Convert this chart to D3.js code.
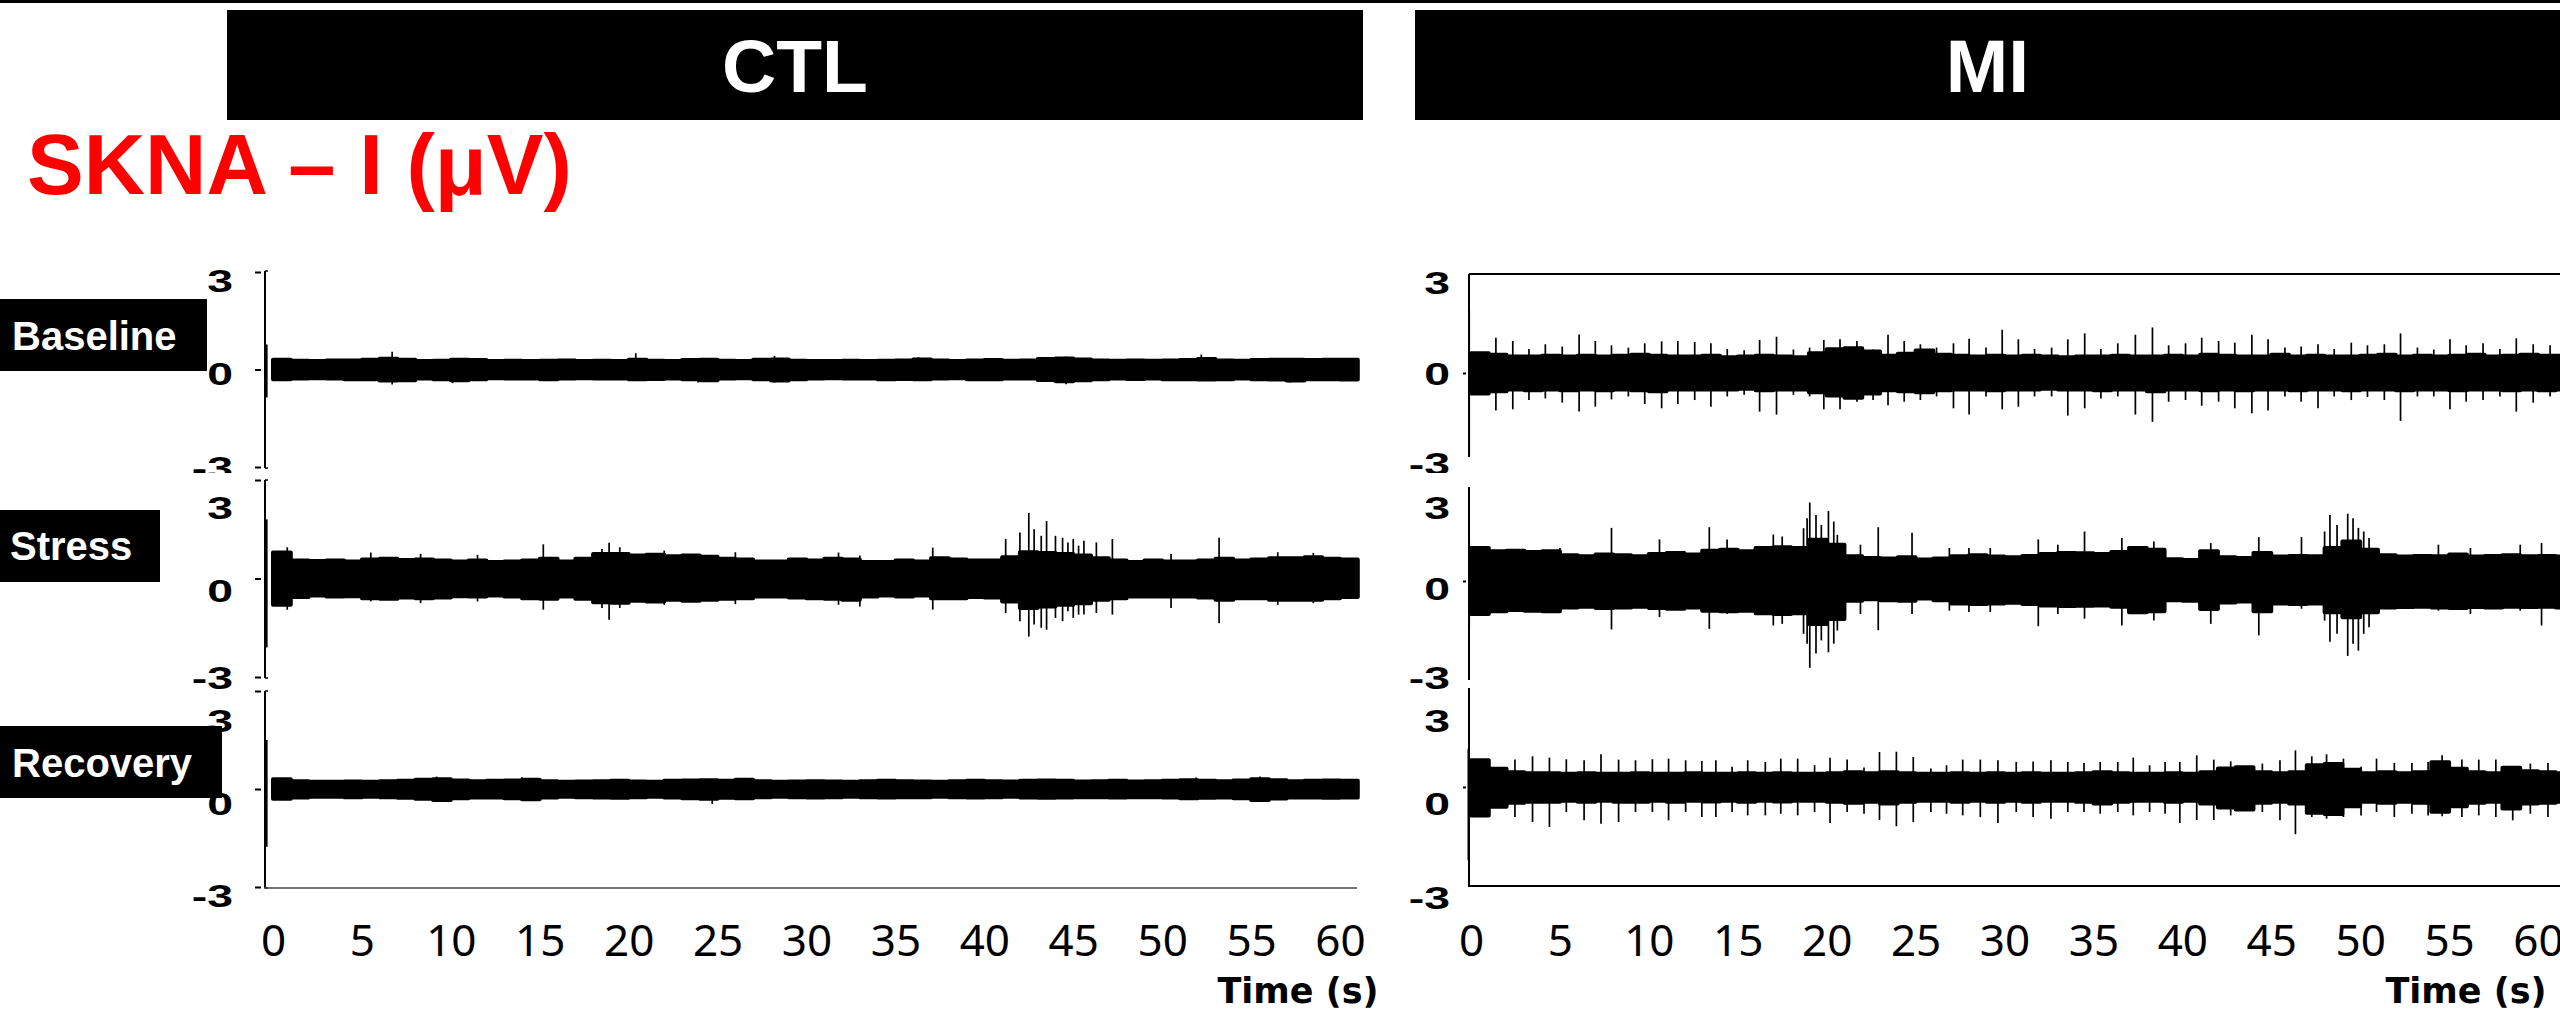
<!DOCTYPE html>
<meta charset="utf-8">
<script src="https://cdn.jsdelivr.net/npm/d3@7"></script>
<style>
  body { margin: 0; background: #fff; }
</style>
<div id="chart"></div>
<script>

// labels
const groups = ["CTL", "MI"];
const phases = ["Baseline", "Stress", "Recovery"];
const timeTicks = [0, 5, 10, 15, 20, 25, 30, 35, 40, 45, 50, 55, 60];
const yTicks = [3, 0, -3];

// SKNA envelope, one value per 1 s bin (uV): upper edge / lower edge
const ctlBaselineHi = [.30,.27,.26,.28,.28,.30,.33,.30,.26,.27,.30,.29,.26,.27,.26,.27,.28,.26,.27,.26,.30,.27,.26,.29,.30,.27,.26,.30,.31,.27,.26,.26,.27,.26,.27,.28,.31,.28,.26,.28,.29,.27,.28,.32,.34,.31,.28,.27,.28,.27,.28,.29,.32,.28,.27,.29,.30,.30,.29,.30,.30];
const ctlBaselineLo = [-.30,-.28,-.27,-.28,-.30,-.30,-.34,-.33,-.28,-.30,-.33,-.30,-.27,-.28,-.28,-.30,-.28,-.27,-.28,-.28,-.30,-.29,-.28,-.30,-.33,-.28,-.27,-.30,-.34,-.30,-.28,-.27,-.28,-.28,-.30,-.29,-.30,-.28,-.27,-.30,-.30,-.28,-.28,-.32,-.36,-.33,-.30,-.28,-.29,-.28,-.30,-.30,-.31,-.30,-.28,-.30,-.31,-.34,-.30,-.30,-.31];
const ctlStressHi = [.79,.55,.53,.55,.52,.58,.60,.56,.58,.55,.52,.55,.50,.52,.55,.60,.52,.60,.75,.75,.70,.72,.68,.70,.66,.60,.58,.52,.52,.58,.55,.60,.58,.50,.50,.55,.52,.62,.58,.55,.55,.65,.80,.78,.75,.70,.62,.55,.50,.55,.52,.52,.55,.60,.55,.58,.62,.62,.65,.60,.58];
const ctlStressLo = [-.80,-.56,-.52,-.55,-.54,-.60,-.62,-.58,-.60,-.58,-.54,-.55,-.52,-.55,-.60,-.62,-.55,-.62,-.72,-.74,-.68,-.70,-.65,-.68,-.65,-.62,-.60,-.55,-.55,-.58,-.60,-.62,-.65,-.55,-.52,-.55,-.52,-.60,-.60,-.56,-.58,-.70,-.90,-.85,-.80,-.75,-.65,-.60,-.55,-.55,-.55,-.55,-.58,-.65,-.60,-.60,-.65,-.65,-.65,-.60,-.56];
const ctlRecoveryHi = [.30,.24,.22,.22,.23,.22,.24,.25,.28,.30,.26,.24,.25,.26,.28,.24,.22,.23,.24,.25,.23,.22,.25,.26,.27,.25,.28,.24,.22,.23,.24,.23,.22,.24,.25,.24,.23,.22,.24,.25,.24,.23,.25,.26,.25,.23,.24,.25,.23,.24,.25,.27,.25,.24,.26,.30,.27,.24,.25,.26,.25];
const ctlRecoveryLo = [-.30,-.26,-.24,-.24,-.25,-.24,-.25,-.27,-.30,-.34,-.28,-.26,-.26,-.28,-.31,-.26,-.24,-.25,-.26,-.27,-.25,-.24,-.26,-.28,-.30,-.27,-.28,-.25,-.24,-.25,-.26,-.25,-.24,-.25,-.26,-.25,-.25,-.24,-.25,-.26,-.25,-.24,-.26,-.27,-.26,-.25,-.25,-.26,-.25,-.25,-.26,-.28,-.27,-.26,-.28,-.34,-.29,-.26,-.26,-.27,-.26];

const miBaselineHi = [.60,.55,.50,.50,.52,.50,.52,.50,.52,.55,.52,.50,.50,.52,.48,.50,.52,.50,.48,.60,.72,.75,.65,.52,.58,.68,.55,.52,.50,.52,.50,.52,.50,.48,.50,.50,.52,.50,.50,.52,.50,.55,.52,.50,.50,.55,.50,.52,.50,.50,.52,.55,.50,.52,.50,.52,.55,.50,.52,.55,.52,.52];
const miBaselineLo = [-.62,-.55,-.50,-.52,-.50,-.52,-.50,-.52,-.50,-.52,-.55,-.50,-.50,-.50,-.50,-.48,-.52,-.50,-.50,-.58,-.68,-.75,-.62,-.52,-.55,-.58,-.52,-.50,-.50,-.52,-.50,-.50,-.48,-.50,-.50,-.52,-.50,-.50,-.55,-.50,-.50,-.52,-.50,-.52,-.50,-.50,-.52,-.50,-.50,-.52,-.50,-.50,-.52,-.50,-.50,-.52,-.50,-.50,-.52,-.50,-.52,-.50];
const miStressHi = [1.0,.90,.92,.88,.90,.78,.75,.80,.78,.75,.82,.85,.80,.92,.95,.90,1.0,1.02,1.0,1.25,1.10,.75,.70,.68,.72,.65,.68,.75,.78,.74,.72,.76,.82,.85,.84,.82,.88,1.0,.95,.66,.64,.90,.72,.70,.85,.74,.76,.75,1.0,1.20,.95,.78,.74,.76,.75,.80,.74,.76,.78,.75,.76,.74];
const miStressLo = [-1.0,-.92,-.88,-.90,-.92,-.80,-.78,-.82,-.80,-.78,-.82,-.84,-.80,-.90,-.92,-.90,-.98,-1.0,-.98,-1.30,-1.15,-.60,-.55,-.58,-.60,-.53,-.58,-.68,-.70,-.68,-.66,-.70,-.74,-.76,-.75,-.74,-.78,-.95,-.92,-.58,-.60,-.85,-.65,-.62,-.92,-.68,-.70,-.68,-.95,-1.10,-.95,-.80,-.79,-.78,-.80,-.82,-.79,-.80,-.78,-.79,-.78,-.80];
const miRecoveryHi = [.81,.55,.45,.42,.42,.40,.42,.40,.40,.42,.40,.40,.42,.40,.40,.42,.40,.42,.40,.40,.42,.45,.42,.45,.42,.40,.40,.42,.40,.42,.40,.42,.40,.40,.42,.45,.42,.40,.40,.42,.40,.45,.56,.60,.45,.42,.45,.66,.70,.52,.42,.45,.42,.45,.75,.55,.45,.42,.58,.48,.45,.42];
const miRecoveryLo = [-.86,-.60,-.48,-.45,-.45,-.42,-.45,-.42,-.45,-.45,-.42,-.45,-.42,-.44,-.42,-.45,-.42,-.44,-.42,-.42,-.45,-.48,-.45,-.50,-.45,-.42,-.42,-.45,-.42,-.45,-.42,-.45,-.42,-.42,-.45,-.50,-.45,-.42,-.42,-.45,-.42,-.50,-.62,-.68,-.48,-.45,-.50,-.78,-.82,-.58,-.45,-.48,-.45,-.48,-.75,-.58,-.48,-.45,-.65,-.50,-.48,-.45];

// single spikes: [time s, peak uV, trough uV]
const ctlBaselineSpikes = [[-0.35,.77,-.86],[6.7,.55,-.46],[10.1,.30,-.42],[20.4,.50,-.30],[23.9,.30,-.40],[28.2,.42,-.40],[36.3,.38,-.30],[44.6,.40,-.45],[52.2,.46,-.30],[57.2,.35,-.40]];
const ctlStressSpikes = [[-0.35,1.8,-2.1],[0.8,.95,-.95],[5.5,.79,-.70],[8.3,.75,-.75],[11.5,.72,-.70],[15.2,1.04,-.95],[18.5,.90,-.90],[18.9,1.09,-1.26],[19.5,.95,-.90],[22.0,.85,-.80],[26.0,.80,-.78],[31.8,.79,-.80],[33.0,.70,-.85],[37.1,.94,-.95],[41.2,1.2,-1.05],[42.0,1.4,-1.3],[42.5,2.0,-1.77],[42.8,1.5,-1.4],[43.2,1.3,-1.5],[43.5,1.75,-1.56],[44.0,1.3,-1.2],[44.4,1.24,-1.3],[44.7,1.1,-1.0],[45.0,1.2,-1.2],[45.3,1.0,-1.1],[45.6,1.15,-1.1],[46.3,1.1,-1.05],[47.2,1.2,-1.1],[50.5,.75,-.90],[53.2,1.24,-1.36],[56.5,.80,-.80],[58.5,.78,-.75]];
const ctlRecoverySpikes = [[-0.35,1.5,-1.77],[9.2,.38,-.37],[14.0,.36,-.30],[24.7,.25,-.46],[26.5,.34,-.25],[51.9,.35,-.30],[55.5,.38,-.38]];

const miBaselineSpikes = [[-0.1,1.9,-2.55],[1.40,1.07,-1.14],[2.35,.97,-1.10],[3.26,.73,-.82],[4.18,.87,-.77],[5.13,.80,-.90],[6.08,1.17,-1.17],[6.99,.97,-1.02],[7.90,.84,-.80],[8.85,.77,-.71],[9.77,.90,-.94],[10.72,.96,-1.07],[11.63,.97,-.94],[12.58,.94,-.82],[13.49,.90,-1.02],[14.41,.73,-.71],[15.36,.69,-.66],[16.23,1.0,-1.17],[17.18,1.10,-1.26],[18.13,.71,-.66],[19.04,.77,-.71],[19.84,1.0,-1.10],[20.75,1.02,-1.10],[21.70,.97,-.87],[22.61,.71,-.82],[23.45,1.16,-.98],[24.36,.97,-.87],[25.27,.87,-.82],[26.18,.77,-.71],[27.13,.90,-1.07],[28.01,1.04,-1.26],[28.96,.77,-.71],[29.87,1.31,-1.10],[30.78,1.02,-1.02],[31.69,.73,-.71],[32.65,.77,-.71],[33.56,1.02,-1.29],[34.51,1.20,-1.07],[35.42,.73,-.77],[36.37,.90,-.71],[37.36,1.16,-1.26],[38.32,1.38,-1.48],[39.23,.84,-.87],[40.18,.90,-.82],[41.09,1.07,-.99],[42.04,.97,-.87],[42.95,.92,-1.07],[43.91,1.16,-1.22],[44.82,1.02,-1.14],[45.77,.77,-.71],[46.68,.80,-.87],[47.63,.87,-1.07],[48.54,.73,-.71],[49.50,.92,-.82],[50.41,.84,-.73],[51.36,.87,-.82],[52.27,1.20,-1.45],[53.22,.77,-.71],[54.14,.71,-.71],[55.05,1.02,-1.10],[55.96,.84,-.87],[56.91,.90,-.82],[57.86,.73,-.71],[58.78,1.05,-1.17],[59.73,.87,-.90],[60.68,.84,-.71]];
const miStressSpikes = [[-0.1,1.3,-1.43],[5.0,1.0,-.95],[7.9,1.61,-1.47],[10.6,1.26,-1.09],[13.4,1.63,-1.45],[14.4,1.26,-1.0],[17.0,1.41,-1.35],[17.5,1.35,-1.3],[18.7,1.6,-1.6],[18.9,1.9,-1.9],[19.05,2.38,-2.63],[19.4,2.0,-2.2],[19.7,1.7,-1.8],[20.1,2.12,-2.16],[20.4,1.8,-1.9],[20.6,1.4,-1.5],[21.9,1.1,-1.0],[22.9,1.63,-1.49],[24.8,1.46,-1.0],[26.9,1.0,-.9],[28.0,1.0,-.94],[29.2,1.0,-.94],[31.9,1.26,-1.37],[33.0,1.1,-1.0],[34.5,1.5,-1.14],[36.6,1.3,-1.35],[38.4,1.2,-1.2],[41.6,1.15,-1.3],[44.3,1.33,-1.65],[46.7,1.33,-.84],[48.0,1.5,-1.2],[48.3,2.0,-1.84],[48.7,1.7,-1.6],[49.3,2.04,-2.27],[49.6,1.9,-1.9],[49.9,1.61,-2.11],[50.2,1.5,-1.6],[50.5,1.3,-1.4],[54.4,1.1,-.9],[56.2,1.0,-1.0],[59.0,1.1,-.9],[60.2,1.15,-1.35]];
const miRecoverySpikes = [[-0.15,1.16,-2.22],[2.47,.83,-.91],[3.46,.93,-1.06],[4.41,.89,-1.21],[5.36,.84,-.76],[6.36,.81,-1.01],[7.31,.99,-1.11],[8.30,.83,-1.06],[9.25,.81,-.76],[10.20,.84,-.76],[11.11,.86,-1.01],[12.07,.81,-.76],[12.98,.79,-.91],[13.77,.81,-.91],[14.68,.61,-.76],[15.56,.81,-.86],[16.55,.76,-.86],[17.42,.86,-.81],[18.37,.86,-.86],[19.32,.66,-.76],[20.19,.89,-1.09],[21.15,.83,-.76],[22.10,.59,-.81],[22.97,1.06,-1.0],[23.92,1.07,-1.19],[24.87,.91,-1.06],[25.86,.56,-.76],[26.74,.66,-.81],[27.65,.83,-.86],[28.64,.83,-.91],[29.63,.81,-1.09],[30.66,.76,-.76],[31.61,.77,-.91],[32.61,.81,-.96],[33.56,.76,-.76],[34.47,.73,-.76],[35.38,.76,-.81],[36.37,.76,-.76],[37.24,.89,-.86],[38.16,.66,-.76],[39.03,.76,-.81],[39.86,.76,-1.09],[40.81,.96,-1.0],[41.77,.83,-1.0],[42.72,.78,-.86],[44.50,.71,-.76],[45.49,.81,-1.01],[46.36,1.11,-1.43],[47.28,.93,-.91],[48.11,.99,-.96],[49.06,.86,-.91],[50.05,.61,-.86],[50.92,.86,-.76],[51.92,.73,-.91],[52.91,.73,-.81],[53.82,.76,-.86],[54.61,.96,-.89],[55.72,.83,-.91],[56.67,.83,-.86],[57.63,.83,-.91],[58.58,.63,-1.01],[59.57,.71,-.81],[60.56,.73,-.91]];

const traces = {
  CTL: [
    {hi: ctlBaselineHi, lo: ctlBaselineLo, spikes: ctlBaselineSpikes},
    {hi: ctlStressHi, lo: ctlStressLo, spikes: ctlStressSpikes},
    {hi: ctlRecoveryHi, lo: ctlRecoveryLo, spikes: ctlRecoverySpikes}
  ],
  MI: [
    {hi: miBaselineHi, lo: miBaselineLo, spikes: miBaselineSpikes},
    {hi: miStressHi, lo: miStressLo, spikes: miStressSpikes},
    {hi: miRecoveryHi, lo: miRecoveryLo, spikes: miRecoverySpikes}
  ]
};

// page layout
const width = 2560, height = 1015;
const layout = {
  CTL: {
    head: [227, 1363], axisX: 265, x0: 273, tickLen: 6, tickGap: 4, labelX: 233,
    rows: [
      {top: 272, bot: 467, line: [271, 468], labels: [280, 373, 467]},
      {top: 480, bot: 677, line: [480, 678], labels: [507, 590, 677]},
      {top: 691, bot: 887, line: [691, 888], labels: [720, 803, 895]}
    ],
    bottom: {y: 888, x2: 1357, color: "#444", w: 1.5},
    timeX: 1298
  },
  MI: {
    head: [1415, 2560], axisX: 1469, x0: 1471, tickLen: 3, tickGap: 3, labelX: 1450,
    rows: [
      {top: 274, bot: 472, line: [274, 457], labels: [282, 373, 463]},
      {top: 482, bot: 680, line: [487, 680], labels: [507, 588, 677]},
      {top: 688, bot: 886, line: [688, 886], labels: [720, 803, 897]}
    ],
    bottom: {y: 886, x2: 2560, color: "#000", w: 2},
    timeX: 2466
  }
};
const rowBoxes = [
  {y: 299, w: 207, textX: 12, base: 350},
  {y: 510, w: 160, textX: 10, base: 560},
  {y: 726, w: 222, textX: 12, base: 777}
];

const svg = d3.select("#chart")
  .append("svg")
    .attr("width", width)
    .attr("height", height)
    .style("background", "white");

// thin bar along the very top
svg.append("rect")
  .attr("x", 0).attr("y", 0)
  .attr("width", width).attr("height", 3)
  .attr("fill", "black");

// title
svg.append("text")
  .attr("x", 27)
  .attr("y", 194)
  .style("font-family", "'Liberation Sans', Arial, sans-serif")
  .style("font-weight", "bold")
  .style("font-size", "85px")
  .attr("fill", "#ff0000")
  .text("SKNA \u2013 I (\u03bcV)");

groups.forEach(g => {
  const L = layout[g];

  // black header box
  svg.append("rect")
    .attr("x", L.head[0]).attr("y", 10)
    .attr("width", L.head[1] - L.head[0]).attr("height", 110)
    .attr("fill", "black");
  svg.append("text")
    .attr("x", (L.head[0] + L.head[1]) / 2)
    .attr("y", 92)
    .attr("text-anchor", "middle")
    .style("font-family", "'Liberation Sans', Arial, sans-serif")
    .style("font-weight", "bold")
    .style("font-size", "75px")
    .attr("fill", "white")
    .text(g);

  const x = d3.scaleLinear()
    .domain([0, 60])
    .range([L.x0, L.x0 + 1067]);

  L.rows.forEach((r, i) => {
    const y = d3.scaleLinear().domain([-3, 3]).range([r.bot, r.top]);
    const yLab = d3.scaleLinear().domain([3, 0, -3]).range(r.labels);
    const tr = traces[g][i];

    // tick labels: wide bold digits, a little off the ticks as in the figure
    svg.append("g")
      .selectAll("text")
      .data(yTicks)
      .enter()
      .append("text")
        .attr("transform", d => "translate(" + L.labelX + "," + yLab(d) + ") scale(1.45,1)")
        .attr("dy", "0.36em")
        .attr("text-anchor", "end")
        .style("font-family", "'Liberation Sans', Arial, sans-serif")
        .style("font-weight", "bold")
        .style("font-size", "32px")
        .attr("fill", "black")
        .text(d => d);

    // the next panel hides the bottom of the "-3" label
    if (i === 0) {
      svg.append("rect")
        .attr("x", L.labelX - 55).attr("y", 473)
        .attr("width", 60).attr("height", 6)
        .attr("fill", "white");
    }

    // envelope of the SKNA signal
    const pts = tr.hi.map((v, k) => [k, v, tr.lo[k]]);
    pts.push([tr.hi.length, tr.hi[tr.hi.length - 1], tr.lo[tr.lo.length - 1]]);
    const area = d3.area()
      .curve(d3.curveStepAfter)
      .x(d => x(d[0]))
      .y0(d => y(d[2]))
      .y1(d => y(d[1]));
    svg.append("path")
      .datum(pts)
      .attr("d", area)
      .attr("fill", "black")
      .attr("stroke", "black")
      .attr("stroke-width", 4)
      .attr("stroke-linejoin", "round");

    svg.append("g")
      .selectAll("line")
      .data(tr.spikes)
      .enter()
      .append("line")
        .attr("x1", d => x(d[0]))
        .attr("x2", d => x(d[0]))
        .attr("y1", d => y(d[1]))
        .attr("y2", d => y(d[2]))
        .attr("stroke", "black")
        .attr("stroke-width", 1.7);

    // y axis: small ticks left of the line, bracket at ends
    const ticks = g === "CTL" ? yTicks : [0];
    const ax = svg.append("g")
      .attr("transform", "translate(" + (L.axisX - L.tickGap) + ",0)")
      .call(d3.axisLeft(y).tickValues(ticks).tickSize(L.tickLen).tickFormat(""));
    ax.select(".domain").remove();
    ax.selectAll("line").attr("stroke", "black").attr("stroke-width", 2);

    svg.append("line")
      .attr("x1", L.axisX).attr("x2", L.axisX)
      .attr("y1", r.line[0]).attr("y2", r.line[1])
      .attr("stroke", "black")
      .attr("stroke-width", 2);
    if (g === "CTL") {
      [r.line[0], r.line[1]].forEach(yy => {
        svg.append("line")
          .attr("x1", L.axisX).attr("x2", L.axisX + 3)
          .attr("y1", yy).attr("y2", yy)
          .attr("stroke", "black").attr("stroke-width", 1.5);
      });
    }
  });

  // MI baseline is boxed at the top
  if (g === "MI") {
    svg.append("line")
      .attr("x1", L.axisX).attr("x2", width)
      .attr("y1", L.rows[0].line[0]).attr("y2", L.rows[0].line[0])
      .attr("stroke", "black").attr("stroke-width", 2);
  }

  // bottom line
  svg.append("line")
    .attr("x1", L.axisX - 1).attr("x2", L.bottom.x2)
    .attr("y1", L.bottom.y).attr("y2", L.bottom.y)
    .attr("stroke", L.bottom.color)
    .attr("stroke-width", L.bottom.w);

  // time axis labels
  const xa = svg.append("g")
    .attr("transform", "translate(0,925)")
    .call(d3.axisBottom(x).tickValues(timeTicks).tickSize(0).tickPadding(0));
  xa.select(".domain").remove();
  xa.selectAll("text")
    .style("font-family", "'Noto Sans', 'Open Sans', sans-serif")
    .style("font-size", "44px")
    .attr("fill", "black");

  svg.append("text")
    .attr("x", L.timeX)
    .attr("y", 1003)
    .attr("text-anchor", "middle")
    .style("font-family", "'DejaVu Sans', sans-serif")
    .style("font-weight", "bold")
    .style("font-size", "35px")
    .attr("fill", "black")
    .text("Time (s)");
});

// phase labels on black boxes (drawn last, they cover some tick labels)
phases.forEach((p, i) => {
  const b = rowBoxes[i];
  svg.append("rect")
    .attr("x", 0).attr("y", b.y)
    .attr("width", b.w).attr("height", 72)
    .attr("fill", "black");
  svg.append("text")
    .attr("x", b.textX)
    .attr("y", b.base)
    .style("font-family", "'Liberation Sans', Arial, sans-serif")
    .style("font-weight", "bold")
    .style("font-size", "40px")
    .attr("fill", "white")
    .text(p);
});

</script>
